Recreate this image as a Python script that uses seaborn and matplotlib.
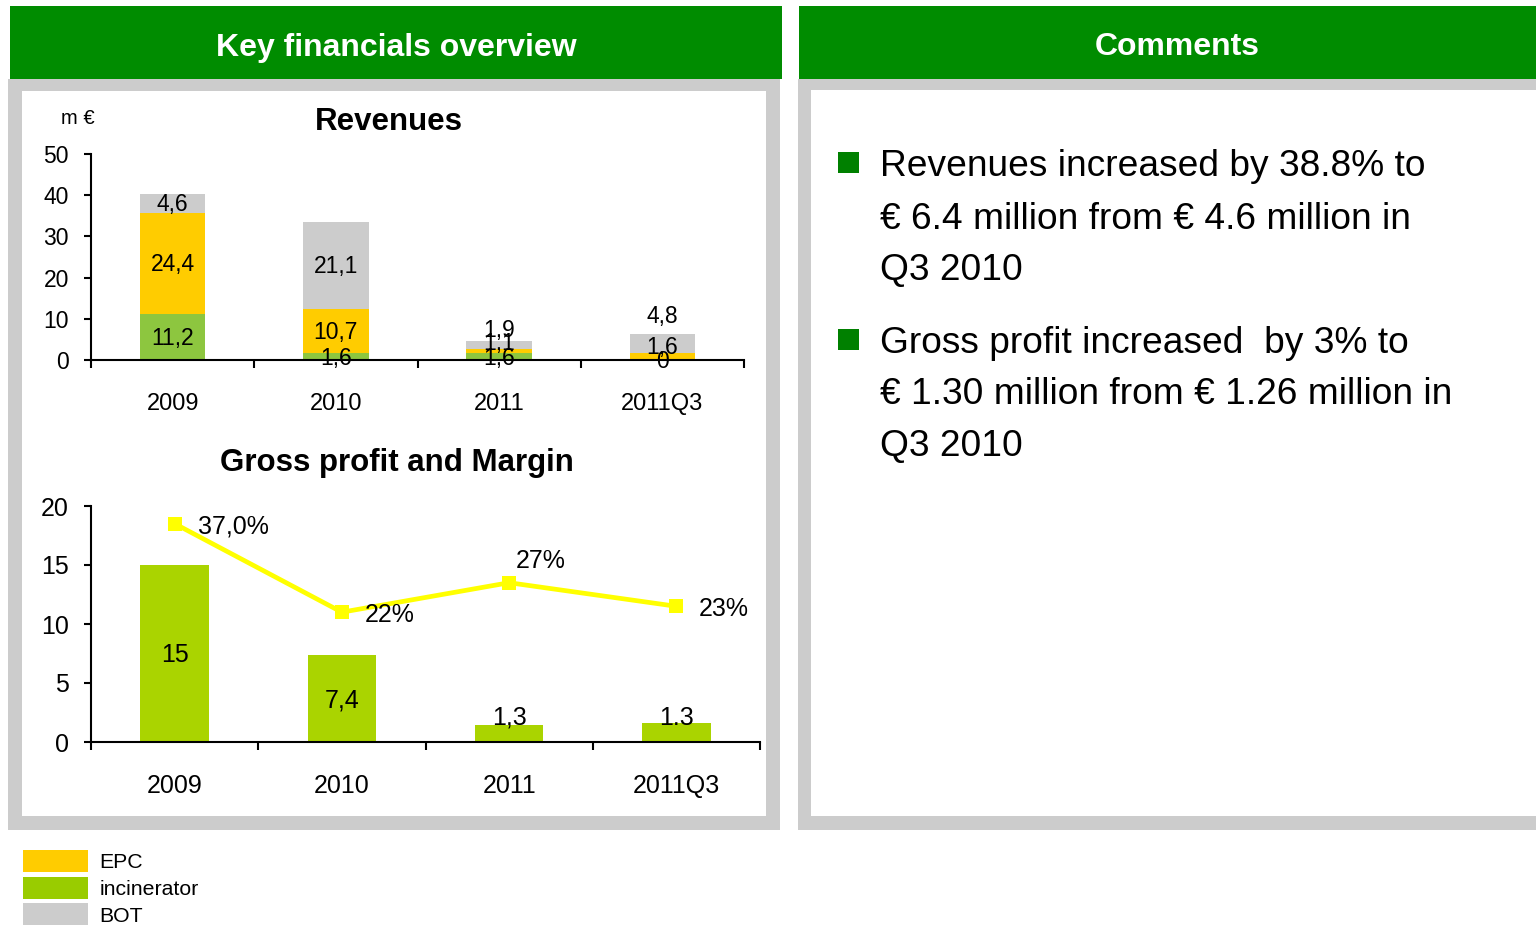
import numpy as np
import pandas as pd
import matplotlib
matplotlib.use("Agg")
import matplotlib.pyplot as plt
import seaborn as sns
from matplotlib.patches import Rectangle, Patch
from matplotlib import font_manager as fm

# ---------------- data ----------------
categories = ["2009", "2010", "2011", "2011Q3"]

rev_incinerator = [11.2, 1.6, 1.6, 0.0]
rev_epc = [24.4, 10.7, 1.1, 1.6]
rev_bot = [4.6, 21.1, 1.9, 4.8]
rev_inc_labels = ["11,2", "1,6", "1,6", "0"]
rev_epc_labels = ["24,4", "10,7", "1,1", "1,6"]
rev_bot_labels = ["4,6", "21,1", "1,9", "4,8"]
rev_yticks = [0, 10, 20, 30, 40, 50]

gross_profit = [15.0, 7.4, 1.4, 1.6]
gross_labels = ["15", "7,4", "1,3", "1.3"]
margin_pct = [37.0, 22.0, 27.0, 23.0]
margin_labels = ["37,0%", "22%", "27%", "23%"]
gross_yticks = [0, 5, 10, 15, 20]

legend_labels = ["EPC", "incinerator", "BOT"]

header_left = "Key financials overview"
header_right = "Comments"
title_rev = "Revenues"
title_gross = "Gross profit and Margin"
unit_label = "m €"

comment_bullets = [
    ["Revenues increased by 38.8% to",
     "€ 6.4 million from € 4.6 million in",
     "Q3 2010"],
    ["Gross profit increased  by 3% to",
     "€ 1.30 million from € 1.26 million in",
     "Q3 2010"],
]

# ---------------- style ----------------
C_HDR = "#008C00"
C_FRAME = "#CCCCCC"
C_INC = "#8DC63F"
C_EPC = "#FFCC00"
C_BOT = "#CCCCCC"
C_GP = "#AAD400"
C_LINE = "#FFFF00"
C_LEG_INC = "#99CC00"
C_BULLET = "#008000"

sns.set_theme(style="white")
plt.rcParams["font.family"] = ["Liberation Sans", "DejaVu Sans"]
plt.rcParams["text.color"] = "black"
plt.rcParams["axes.labelcolor"] = "black"
plt.rcParams["xtick.color"] = "black"
plt.rcParams["ytick.color"] = "black"

names = {f.name for f in fm.fontManager.ttflist}
if "Liberation Sans Narrow" in names:
    NARROW = ["Liberation Sans Narrow", "DejaVu Sans"]
    rev_tick_size = 19
else:
    NARROW = ["Liberation Sans", "DejaVu Sans"]
    rev_tick_size = 17

W, H = 1536, 925
fig = plt.figure(figsize=(W / 100, H / 100), dpi=100)
fig.patch.set_facecolor("white")

bg = fig.add_axes([0, 0, 1, 1])
bg.set_xlim(0, W)
bg.set_ylim(H, 0)
bg.axis("off")


def rect(x0, y0, x1, y1, color):
    bg.add_patch(Rectangle((x0, y0), x1 - x0, y1 - y0, facecolor=color,
                           edgecolor="none"))


# panels
rect(10, 6, 782, 79, C_HDR)
rect(8, 79, 780, 830, C_FRAME)
rect(22, 91, 766, 816, "white")
rect(799, 6, 1536, 79, C_HDR)
rect(798, 79, 1536, 830, C_FRAME)
rect(811, 90, 1536, 816, "white")

bg.text(396, 48, header_left, ha="center", va="center", color="white",
        fontsize=23, fontweight="bold")
bg.text(1177, 47, header_right, ha="center", va="center", color="white",
        fontsize=23, fontweight="bold")
bg.text(389, 122, title_rev, ha="center", va="center", fontsize=22.5,
        fontweight="bold", color="black")
bg.text(397, 463, title_gross, ha="center", va="center", fontsize=22.5,
        fontweight="bold", color="black")
bg.text(78, 118, unit_label, ha="center", va="center", fontsize=14.5,
        color="black")

# comments
baselines = [[176, 229, 280], [353, 404, 456]]
bullet_tops = [152, 329]
for lines, ys, bt in zip(comment_bullets, baselines, bullet_tops):
    rect(838, bt, 859, bt + 21, C_BULLET)
    for line, y in zip(lines, ys):
        bg.text(880, y, line, ha="left", va="baseline", fontsize=26.7,
                color="black")


def frac(x0, y0, x1, y1):
    return [x0 / W, 1 - y1 / H, (x1 - x0) / W, (y1 - y0) / H]


def style_axis(ax, ytick_size, xtick_size, family, ypad, xpad):
    sns.despine(ax=ax)
    for s in ("left", "bottom"):
        ax.spines[s].set_color("black")
        ax.spines[s].set_linewidth(1.5)
    ax.set_xlim(-0.5, 3.5)
    ax.set_xlabel("")
    ax.set_ylabel("")
    ax.set_xticks(np.arange(-0.5, 4.0, 1.0), minor=True)
    ax.tick_params(axis="y", which="major", left=True, length=5, width=1.5,
                   color="black", pad=ypad, labelsize=ytick_size,
                   labelcolor="black")
    ax.tick_params(axis="x", which="major", bottom=True, length=0,
                   pad=xpad, labelsize=xtick_size, labelcolor="black")
    ax.tick_params(axis="x", which="minor", bottom=True, length=6,
                   width=1.5, color="black", direction="out")
    for lab in ax.get_xticklabels() + ax.get_yticklabels():
        lab.set_fontfamily(family)
    ax.grid(False)


# ---------------- revenues (stacked) ----------------
ax1 = fig.add_axes(frac(91, 154, 744, 360))
ax1.patch.set_alpha(0)
inc = np.array(rev_incinerator)
epc = np.array(rev_epc)
bot = np.array(rev_bot)
sns.barplot(x=categories, y=inc + epc + bot, color=C_BOT, width=0.4,
            saturation=1, errorbar=None, linewidth=0, ax=ax1)
sns.barplot(x=categories, y=inc + epc, color=C_EPC, width=0.4,
            saturation=1, errorbar=None, linewidth=0, ax=ax1)
sns.barplot(x=categories, y=inc, color=C_INC, width=0.4,
            saturation=1, errorbar=None, linewidth=0, ax=ax1)
ax1.set_ylim(0, 50)
ax1.set_yticks(rev_yticks)
style_axis(ax1, rev_tick_size - 0.5, rev_tick_size, NARROW, 11, 24)

off_inc = [-2, -2, -2, -2]
off_epc = [-1, -1, 8, 9]
off_bot = [-1, -1, 14, 27]
for i in range(len(categories)):
    centers = [inc[i] / 2, inc[i] + epc[i] / 2, inc[i] + epc[i] + bot[i] / 2]
    labs = [rev_inc_labels[i], rev_epc_labels[i], rev_bot_labels[i]]
    offs = [off_inc[i], off_epc[i], off_bot[i]]
    for c, lab, o in zip(centers, labs, offs):
        ax1.annotate(lab, (i, c), xytext=(0, o), textcoords="offset pixels",
                     ha="center", va="center", fontsize=16.5, color="black",
                     annotation_clip=False, zorder=5)

# ---------------- gross profit & margin ----------------
ax2 = fig.add_axes(frac(91, 506, 760, 742))
ax2.patch.set_alpha(0)
sns.barplot(x=categories, y=gross_profit, color=C_GP, width=0.41,
            saturation=1, errorbar=None, linewidth=0, ax=ax2)
ax2.set_ylim(0, 20)
ax2.set_yticks(gross_yticks)
style_axis(ax2, 18, 18, ["Liberation Sans", "DejaVu Sans"], 11, 23)

off_gp = [-2, -2, 16, 15]
for i, (v, lab) in enumerate(zip(gross_profit, gross_labels)):
    ax2.annotate(lab, (i, v / 2), xytext=(0, off_gp[i]),
                 textcoords="offset pixels", ha="center", va="center",
                 fontsize=18, color="black", annotation_clip=False)

tw = ax2.twinx()
sns.lineplot(x=np.arange(len(categories)), y=margin_pct, ax=tw,
             color=C_LINE, linewidth=3.4, marker="s", markersize=10,
             markeredgecolor=C_LINE, markeredgewidth=0)
tw.set_ylim(0, 40)
tw.set_xlim(-0.5, 3.5)
tw.axis("off")
off_m = [(23, -3), (23, -3), (7, 22), (22, -3)]
for i, (v, lab) in enumerate(zip(margin_pct, margin_labels)):
    tw.annotate(lab, (i, v), xytext=off_m[i], textcoords="offset pixels",
                ha="left", va="center", fontsize=18, color="black",
                annotation_clip=False)
ax2.set_xlim(-0.5, 3.5)

# ---------------- legend ----------------
handles = [Patch(facecolor=C_EPC, edgecolor="none"),
           Patch(facecolor=C_LEG_INC, edgecolor="none"),
           Patch(facecolor=C_BOT, edgecolor="none")]
leg = bg.legend(handles, legend_labels, loc="upper left",
                bbox_to_anchor=(23 / W, 1 - 850 / H),
                bbox_transform=fig.transFigure, frameon=False,
                fontsize=15.3, handlelength=3.05, handleheight=1.2,
                labelspacing=0.22, handletextpad=0.55, borderpad=0,
                borderaxespad=0, labelcolor="black")

fig.savefig("out.png", dpi=100, facecolor="white")
